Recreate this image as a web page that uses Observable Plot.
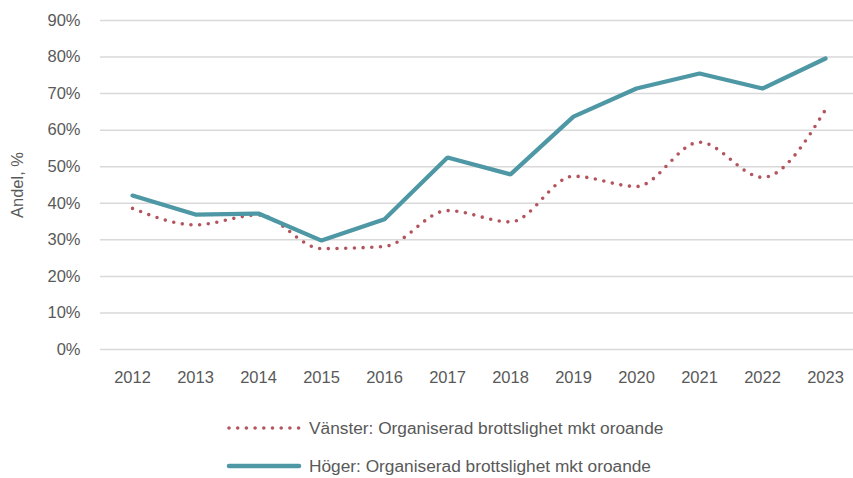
<!DOCTYPE html>
<html><head><meta charset="utf-8">
<script src="https://cdn.jsdelivr.net/npm/d3@7"></script>
<script src="https://cdn.jsdelivr.net/npm/@observablehq/plot@0.6"></script>
<style>
body{margin:0;background:#fff;font-family:"Liberation Sans",Arial,sans-serif;overflow:hidden}
#legend{position:relative;height:78px;color:#595959;font-size:17.3px;line-height:18px}
.item{position:absolute;left:226px;display:flex;align-items:center}
.item svg{margin-right:7px}
</style></head><body>
<div id="chart"></div>
<div id="legend"></div>
<script>
const years = [2012,2013,2014,2015,2016,2017,2018,2019,2020,2021,2022,2023];
const vanster = [38.6,34.1,36.8,27.6,28.2,38.0,34.9,47.4,44.6,56.7,47.1,65.6];
const hoger = [42.1,36.9,37.2,29.8,35.6,52.5,47.9,63.7,71.4,75.5,71.4,79.6];
const yTicks = [0,10,20,30,40,50,60,70,80,90];
const seriesNames = ["Vänster: Organiserad brottslighet mkt oroande","Höger: Organiserad brottslighet mkt oroande"];
const colors = ["#b4555e","#4e97a5"];

const dataV = years.map((y,i)=>({year:String(y), v:vanster[i]}));
const dataH = years.map((y,i)=>({year:String(y), v:hoger[i]}));

const chart = Plot.plot({
  width: 853, height: 400,
  marginLeft: 100, marginRight: -4, marginTop: 20, marginBottom: 51,
  style:{fontFamily:'"Liberation Sans",Arial,sans-serif', fontSize:"16px", color:"#595959", background:"#fff", overflow:"visible"},
  x:{type:"point", domain: years.map(String), padding:0.5, label:null, tickSize:0, tickPadding:20},
  y:{domain:[0,90], ticks:yTicks, tickFormat:d=>d+"%", label:null, tickSize:0, tickPadding:20},
  marks:[
    Plot.ruleY(yTicks,{stroke:"#d9d9d9", strokeWidth:1.5}),
    Plot.axisY({ticks:yTicks, tickFormat:d=>d+"%", tickSize:0, tickPadding:20, fill:"#595959", fontSize:16.5, label:null}),
    Plot.axisX({tickSize:0, tickPadding:22, fill:"#595959", fontSize:16.5, label:null}),
    Plot.text(["Andel, %"],{frameAnchor:"left", textAnchor:"middle", dx:-83, rotate:-90, fill:"#595959", fontSize:16.5, y:45}),
    Plot.line(dataV,{x:"year", y:"v", stroke:colors[0], strokeWidth:3.6, strokeDasharray:"0 8.7", strokeLinecap:"round", curve:"monotone-x"}),
    Plot.line(dataH,{x:"year", y:"v", stroke:colors[1], strokeWidth:4.2, strokeLinejoin:"miter"})
  ]
});
document.getElementById("chart").appendChild(chart);

const leg = document.getElementById("legend");
const tops = [28, 66];
seriesNames.forEach((name,i)=>{
  const d = document.createElement("div");
  d.className="item"; d.style.top = (tops[i]-10)+"px";
  const dash = i===0 ? 'stroke-dasharray="0 8.7" stroke-linecap="round" stroke-width="3.6"' : 'stroke-width="4.5" stroke-linecap="round"';
  d.innerHTML = `<svg width="76" height="20"><line x1="3" x2="73" y1="10" y2="10" stroke="${colors[i]}" ${dash}/></svg><span>${name}</span>`;
  leg.appendChild(d);
});
</script>
</body></html>
